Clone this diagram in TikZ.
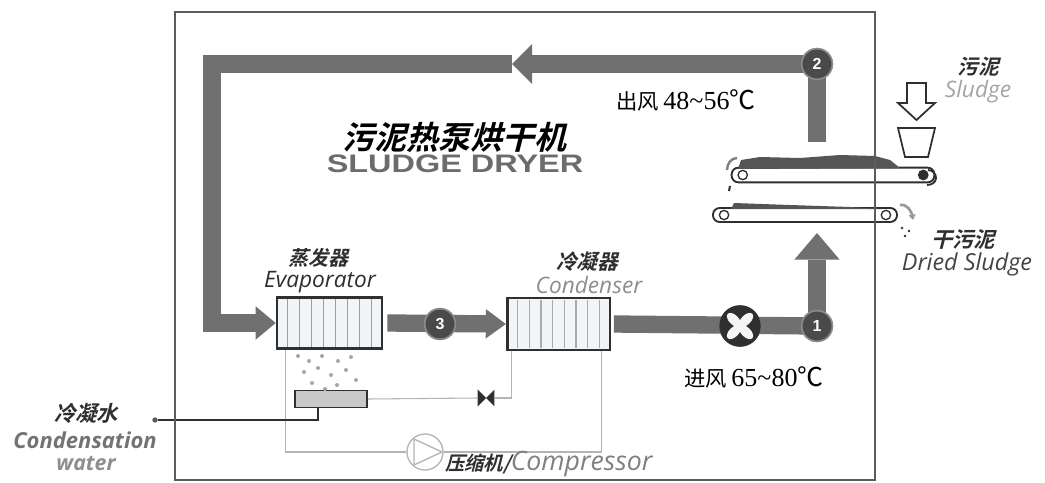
\documentclass[tikz,border=0pt]{standalone}
\usepackage{fontspec}
\usepackage{graphicx}
\setmainfont{Liberation Serif}
\newfontfamily\cjk{Noto Sans CJK SC}
\newfontfamily\cjkbi{Noto Sans CJK SC Bold}[FakeSlant=0.25]
\newfontfamily\hum{Open Sans}
\newfontfamily\heavy{Liberation Sans}
\usetikzlibrary{arrows.meta,calc}

\definecolor{ductgray}{HTML}{707070}
\definecolor{numgray}{HTML}{4A4A4A}
\definecolor{ringgray}{HTML}{8C8C8C}
\definecolor{pipegray}{HTML}{B4B4B4}
\definecolor{framegray}{HTML}{5C5C5C}
\definecolor{coilfill}{HTML}{F1F5F8}
\definecolor{coilline}{HTML}{A3ADB5}
\definecolor{inkdark}{HTML}{2F2F2F}
\definecolor{labgray}{HTML}{8E8E8E}
\definecolor{sludgegray}{HTML}{555555}
\definecolor{traygray}{HTML}{C9C9C9}

\tikzset{
  airduct/.style={draw=ductgray, line width=13pt, line join=miter},
  numc/.style={circle, fill=numgray, draw=ringgray, line width=1.2pt,
    minimum size=23pt, inner sep=0pt, text=white,
    font=\heavy\bfseries\fontsize{12}{12}\selectfont},
  fanc/.style={circle, fill=inkdark, minimum size=31pt, inner sep=0pt},
  coilbox/.style={draw=inkdark, line width=2pt, fill=coilfill, inner sep=0pt},
  pipe/.style={draw=pipegray, line width=0.8pt},
  belt/.style={draw=inkdark, line width=1.4pt, fill=white, rounded corners=5pt, inner sep=0pt},
  roller/.style={circle, draw=inkdark, line width=1pt, fill=white, minimum size=7pt, inner sep=0pt},
  zhlab/.style={font=\cjkbi\fontsize{15.5}{16}\selectfont, text=inkdark, inner sep=0pt},
  enlab/.style={font=\hum\itshape\fontsize{17}{18}\selectfont, inner sep=0pt},
  tempnote/.style={font=\fontsize{19.5}{20}\selectfont, text=black, inner sep=0pt},
}

\begin{document}
\begin{tikzpicture}[x=0.75pt, y=-0.75pt]
\useasboundingbox (0,0) rectangle (1045,482);
\fill[white] (0,0) rectangle (1045,482);

% ---- heat exchangers ----
\node[coilbox, minimum width=78.75pt, minimum height=38pt] (evap) at (329.5,323) {};
\node[coilbox, minimum width=77pt, minimum height=39pt] (cond) at (558.5,324) {};
\foreach \i in {1,...,8} {
  \draw[gray!75, line width=1.1pt]
    ($(evap.north west)!\i/9!(evap.north east)+(0,3)$) -- ($(evap.south west)!\i/9!(evap.south east)+(0,-3)$);
  \draw[coilline, line width=0.9pt]
    ($(cond.north west)!\i/9!(cond.north east)+(0,3)$) -- ($(cond.south west)!\i/9!(cond.south east)+(0,-3)$);
}

% ---- refrigerant loop ----
\node[circle, draw=pipegray, line width=1pt, minimum size=27pt, inner sep=0pt] (comp) at (425,452) {};
\draw[pipegray, line width=1pt] ($(comp.center)+(-11,-13)$) -- ($(comp.center)+(17,0)$) -- ($(comp.center)+(-11,13)$) -- cycle;
\node[minimum width=12pt, minimum height=12pt, inner sep=0pt] (valve) at (486,398) {};
\fill[inkdark] (valve.north west) -- (valve.south east) -- (valve.north east) -- (valve.south west) -- cycle;
\node[draw=inkdark, line width=1.2pt, fill=traygray, minimum width=54pt, minimum height=13pt, inner sep=0pt] (tray) at (331,399) {};

\draw[pipe] ([xshift=7.5pt]evap.south west) |- (comp.west);
\draw[pipe] (comp.east) -| ([xshift=-7.5pt]cond.south east);
\draw[pipe] (tray.east) -- (valve.west);
\draw[pipe] (valve.east) -| ([xshift=4.5pt]cond.south west);

% condensate drain
\node[circle, fill=inkdark!80, inner sep=0pt, minimum size=4pt] (cwdot) at (155,420) {};
\draw[inkdark, line width=0.9pt] ([xshift=-9.75pt]tray.south) |- (cwdot);

% droplets under the evaporator
\foreach \p in {(298,356),(309,361),(322,356),(338,361),(351,357),(304,372),(318,368),(331,375),(346,370),(356,380),(312,383),(337,385),(325,389)}
  \fill[gray!70] \p circle (2);

% ---- air ducts ----
\node[numc] (c2) at (817,64) {2};
\node[numc] (c1) at (817,326) {1};
\node[numc] (c3) at (440,324) {3};
\node[fanc] (fan) at (740,326) {};
\coordinate (topA) at (512,64);
\coordinate (outA) at (817,142);
\coordinate (upA) at (817,233);
\coordinate (lc1) at (212,64);
\coordinate (lc2) at (212,323);

\draw[airduct, -{Triangle[length=15pt, width=30pt, line width=0pt]}] (c2.center) -- (topA);
\draw[airduct, -{Triangle[length=15pt, width=25pt, line width=0pt]}] (topA) -- (lc1) -- (lc2) -- (evap.west);
\draw[airduct] (c2.center) -- (outA);
\draw[airduct, -{Triangle[length=15pt, width=22pt, line width=0pt]}] ([xshift=3pt]evap.east) -- (cond.west);
\draw[airduct] ([xshift=2pt]cond.east) -- (c1.center);
\draw[airduct, -{Triangle[length=20pt, width=34pt, line width=0pt]}] (c1.center) -- (upA);

% circles drawn again above the ducts
\node[numc] at (c2) {2};
\node[numc] at (c1) {1};
\node[numc] at (c3) {3};
\node[fanc] at (fan) {};
\foreach \a in {45,135,225,315} {
  \begin{scope}[shift={(fan.center)}, rotate=\a]
    \fill[white!92!gray] (6.5pt,0) ellipse [x radius=6.5pt, y radius=3.6pt];
  \end{scope}
}

% ---- conveyor belts ----
\node[belt, minimum width=152pt, minimum height=11pt] (beltA) at (833,175) {};
\node[belt, minimum width=138pt, minimum height=10.5pt] (beltB) at (805,215) {};
\fill[sludgegray] (738,169) -- (741,160) -- (760,157) -- (800,158) -- (840,155) -- (875,156) -- (890,160) -- (900,168) -- cycle;
\fill[sludgegray] (731,209) -- (734,203) -- (790,205) -- (850,207) -- (882,209) -- cycle;
\node[roller] (rA1) at ($(beltA.west)+(9pt,0)$) {};
\node[roller, fill=inkdark] (rA2) at ($(beltA.east)+(-9pt,0)$) {};
\node[roller] (rB1) at ($(beltB.west)+(9pt,0)$) {};
\node[roller] (rB2) at ($(beltB.east)+(-9pt,0)$) {};
\draw[gray, line width=1.8pt] (727,170) to[out=90, in=180] (737,158);
\draw[inkdark, line width=1.4pt] (928,170) to[out=0, in=90] (936,178) to[out=-90, in=0] (927,185);
\draw[inkdark, line width=1.5pt] (730,186) -- (729,191);
\draw[gray!80, line width=2pt, -{Triangle[length=4pt, width=5pt]}] (900,205) to[out=10, in=100] (913,220);
\fill[inkdark] (902,228) circle (1.3) (909,231) circle (1.3) (905,236) circle (1.3);

% hopper and feed arrow
\draw[inkdark, line width=1.3pt, fill=white] (898,128) -- (935,128) -- (928,157) -- (905,157) -- cycle;
\draw[inkdark, line width=1.3pt, fill=white] (907,83) -- (926,83) -- (926,103) -- (935,103) -- (916.5,120) -- (898,103) -- (907,103) -- cycle;

% ---- frame ----
\draw[framegray, line width=1.3pt] (175,12) rectangle (875,480);

% ---- texts ----
\node[inner sep=0pt, font=\cjkbi\fontsize{24}{24}\selectfont, text=black] (title) at (454,137) {污泥热泵烘干机};
\node[inner sep=0pt, font=\heavy\bfseries\fontsize{19}{19}\selectfont, text=gray!85!black] (subtitle) at (455,164) {\scalebox{1.28}[1]{SLUDGE DRYER}};

\node[tempnote] (outtxt) at (686,100) {{\cjk\fontsize{16}{16}\selectfont 出风}\,48\textasciitilde 56{\cjk ℃}};
\node[tempnote] (intxt) at (754,377) {{\cjk\fontsize{16}{16}\selectfont 进风}\,65\textasciitilde 80{\cjk ℃}};

\node[zhlab, font=\cjkbi\fontsize{15}{16}\selectfont] (evapzh) at (318,258) {蒸发器};
\node[enlab, text=inkdark] (evapen) at (320,282) {Evaporator};
\node[zhlab] (condzh) at (587,262) {冷凝器};
\node[enlab, text=labgray] (conden) at (589,285) {Condenser};

\node[zhlab] (sludgezh) at (978,67) {污泥};
\node[enlab, text=labgray!80] (sludgeen) at (978,92) {Sludge};
\node[zhlab, font=\cjkbi\fontsize{16}{16}\selectfont] (driedzh) at (963,240) {干污泥};
\node[enlab, text=inkdark!90, font=\hum\itshape\fontsize{17.5}{18}\selectfont] (drieden) at (967,264) {Dried Sludge};

\node[zhlab, font=\cjkbi\fontsize{16}{16}\selectfont] (cwzh) at (86,413) {冷凝水};
\node[enlab, text=gray!90!black, font=\hum\itshape\bfseries\fontsize{16.5}{17}\selectfont] (cwen) at (85,440) {Condensation};
\node[enlab, text=labgray, font=\hum\itshape\bfseries\fontsize{16}{17}\selectfont] (cwen2) at (86,464) {water};

\node[anchor=west, inner sep=0pt] (comptxt) at (445,464) {{\cjkbi\fontsize{14.5}{15}\selectfont\color{inkdark}压缩机/}{\hum\itshape\fontsize{20}{20}\selectfont\color{labgray!90!black}Compressor}};
\end{tikzpicture}
\end{document}
